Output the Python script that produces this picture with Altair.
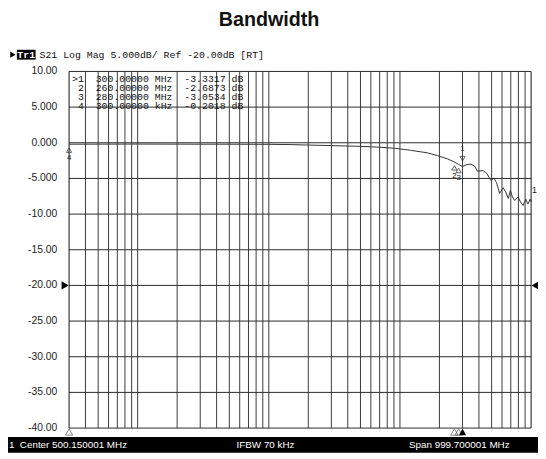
import altair as alt
import pandas as pd

# ---- data ----
freq_mhz = [0.3, 0.5, 1, 2, 3, 5, 10, 15, 20, 30, 50, 70, 92, 120, 163, 193, 230, 260, 280, 300,
            325, 348, 370, 390, 430, 460, 494, 520, 545, 575, 612, 640, 670, 695, 720, 750, 795,
            830, 870, 910, 945, 985, 1000]
trace_db = [-0.20, -0.19, -0.18, -0.19, -0.20, -0.20, -0.22, -0.26, -0.32, -0.40, -0.50, -0.62, -0.78,
            -1.05, -1.42, -1.80, -2.25, -2.69, -3.05, -3.33,
            -3.05, -3.00, -3.25, -4.00, -3.90, -4.30, -5.30, -4.95, -5.60, -7.10, -6.30, -6.90, -7.80,
            -6.70, -7.60, -8.10, -7.60, -8.30, -8.80, -7.90, -8.60, -7.90, -8.30]

marker_ids = ["1", "2", "3", "4"]
marker_freq = [300, 260, 280, 0.3]
marker_db = [-3.3317, -2.6873, -3.0534, -0.2018]
marker_freq_text = ["300.00000 MHz", "260.00000 MHz", "280.00000 MHz", "300.00000 kHz"]
active_marker = "1"

y_ticks = [10, 5, 0, -5, -10, -15, -20, -25, -30, -35, -40]
y_tick_labels = ["10.00", "5.000", "0.000", "-5.000", "-10.00", "-15.00", "-20.00",
                 "-25.00", "-30.00", "-35.00", "-40.00"]
x_grid = [0.4, 0.5, 0.6, 0.7, 0.8, 0.9,
          1, 2, 3, 4, 5, 6, 7, 8, 9,
          10, 20, 30, 40, 50, 60, 70, 80, 90,
          100, 200, 300, 400, 500, 600, 700, 800, 900]
x_edges = [0.3, 1000]
ref_level = -20
trace_label_db = -6.6

title_text = "Bandwidth"
header_text = "S21 Log Mag 5.000dB/ Ref -20.00dB [RT]"
trace_name = "Tr1"
footer_center = "Center 500.150001 MHz"
footer_ifbw = "IFBW 70 kHz"
footer_span = "Span 999.700001 MHz"

W, H = 469, 362
xs = alt.Scale(type="log", domain=[0.3, 1000], nice=False)
ys = alt.Scale(domain=[-40, 10], nice=False, zero=False)
X = lambda: alt.X("f:Q", scale=xs, axis=None)
Y = lambda: alt.Y("db:Q", scale=ys, axis=None)

mono = "Liberation Mono"
sans = "Liberation Sans"
NB = "\u00a0"


def label(text, x, y, **kw):
    return alt.Chart(pd.DataFrame({"t": [text]})).mark_text(**kw).encode(
        x=alt.value(x), y=alt.value(y), text="t:N")


def box(x, x2, y, y2, color):
    return alt.Chart(pd.DataFrame({"a": [0]})).mark_rect(color=color).encode(
        x=alt.value(x), x2=alt.value(x2), y=alt.value(y), y2=alt.value(y2))


vgrid = alt.Chart(pd.DataFrame({"f": x_grid})).mark_rule(color="#3a3a3a", strokeWidth=1).encode(x=X())
hgrid = alt.Chart(pd.DataFrame({"db": y_ticks})).mark_rule(color="#2a2a2a", strokeWidth=1).encode(y=Y())
edges = alt.Chart(pd.DataFrame({"f": x_edges})).mark_rule(color="#111", strokeWidth=1).encode(x=X())

trace = alt.Chart(pd.DataFrame({"f": freq_mhz, "db": trace_db})).mark_line(
    color="#333", strokeWidth=1).encode(x=X(), y=Y(), order=alt.Order("f:Q"))

mk = pd.DataFrame({"id": marker_ids, "f": marker_freq, "db": marker_db})
mk_act = mk[mk["id"] == active_marker]
mk_other = mk[mk["id"] != active_marker]

m_active = alt.Chart(mk_act).mark_point(shape="triangle-down", filled=False, color="#222",
                                        size=28, strokeWidth=1, yOffset=-8).encode(x=X(), y=Y())
m_active_lbl = alt.Chart(mk_act).mark_text(font=sans, fontSize=8, color="#222", dy=-18).encode(
    x=X(), y=Y(), text="id:N")
m_other = alt.Chart(mk_other).mark_point(shape="triangle-up", filled=False, color="#222",
                                         size=28, strokeWidth=1, yOffset=6).encode(x=X(), y=Y())
m_other_lbl = alt.Chart(mk_other).mark_text(font=sans, fontSize=8, color="#222", dy=14).encode(
    x=X(), y=Y(), text="id:N")

# markers on the bottom edge
base = pd.DataFrame({"f": marker_freq, "db": [-40] * 4, "id": marker_ids})
b_other = alt.Chart(base[base["id"] != active_marker]).mark_point(
    shape="triangle-up", filled=False, color="#555", size=55, strokeWidth=1, yOffset=4).encode(x=X(), y=Y())
b_act = alt.Chart(base[base["id"] == active_marker]).mark_point(
    shape="triangle-up", filled=True, color="black", opacity=1, size=55, yOffset=4).encode(x=X(), y=Y())

# reference level arrows
ref = pd.DataFrame({"db": [ref_level]})
ref_l = alt.Chart(ref).mark_point(shape="triangle-right", filled=True, color="black", opacity=1,
                                  size=70).encode(x=alt.value(-4), y=Y())
ref_r = alt.Chart(ref).mark_point(shape="triangle-left", filled=True, color="black", opacity=1,
                                  size=70).encode(x=alt.value(W + 4), y=Y())

# y labels
ylab = alt.Chart(pd.DataFrame({"db": y_ticks, "t": y_tick_labels})).mark_text(
    font=sans, fontSize=10.5, color="#222", align="right", baseline="middle").encode(
    x=alt.value(-12), y=Y(), text="t:N")

# marker table
rows = []
for i, (mid, ft, v) in enumerate(zip(marker_ids, marker_freq_text, marker_db)):
    line = f"{mid}  {ft}  {v:.4f} dB".replace(" ", NB)
    rows.append({"t": line, "r": i, "act": ">" if mid == active_marker else ""})
table_df = pd.DataFrame(rows)
row_y = alt.Y("r:Q", scale=alt.Scale(domain=[0, 3], range=[8, 35]), axis=None)
table = alt.Chart(table_df).mark_text(
    font=mono, fontSize=10, color="#111", align="left", baseline="middle").encode(
    x=alt.value(9), y=row_y, text="t:N")
table_act = alt.Chart(table_df).mark_text(
    font=mono, fontSize=10, color="#111", align="left", baseline="middle").encode(
    x=alt.value(3), y=row_y, text="act:N")

trace_lbl = alt.Chart(pd.DataFrame({"db": [trace_label_db], "t": ["1"]})).mark_text(
    font=sans, fontSize=9, color="#222", align="left").encode(x=alt.value(W + 1), y=Y(), text="t:N")

title = label(title_text, 203, -52, font=sans, fontSize=20, fontWeight="bold", color="#111",
              align="center", baseline="middle")
hdr_tri = alt.Chart(pd.DataFrame({"a": [0]})).mark_point(
    shape="triangle-right", filled=True, color="black", opacity=1, size=40).encode(
    x=alt.value(-57), y=alt.value(-17))
hdr_box = box(-53, -34, -22, -12, "black")
hdr_name = label(trace_name, -43.5, -17, font=mono, fontSize=10, fontWeight="bold", color="white",
                 align="center", baseline="middle")
hdr_text = label(header_text, -30, -17, font=mono, fontSize=10, color="#111", align="left",
                 baseline="middle")

foot_bar = box(-70, W + 10, 371, 387, "black")
foot_1 = label("1", -61, 379, font=sans, fontSize=10, color="white", align="left", baseline="middle")
foot_c = label(footer_center, -50, 379, font=sans, fontSize=10, color="white", align="left",
               baseline="middle")
foot_i = label(footer_ifbw, 170, 379, font=sans, fontSize=10, color="white", align="left",
               baseline="middle")
foot_s = label(footer_span, 345, 379, font=sans, fontSize=10, color="white", align="left",
               baseline="middle")

chart = alt.layer(
    vgrid, hgrid, edges, trace,
    m_active, m_active_lbl, m_other, m_other_lbl,
    b_other, b_act, ref_l, ref_r, ylab, table, table_act, trace_lbl,
    title, hdr_tri, hdr_box, hdr_name, hdr_text,
    foot_bar, foot_1, foot_c, foot_i, foot_s,
).resolve_scale(y="independent").properties(
    width=W, height=H,
    autosize=alt.AutoSizeParams(type="none"),
    padding={"left": 62, "top": 61, "right": 7, "bottom": 28},
    background="white",
).configure_view(stroke=None)

chart.save("out.html", embed_options={"renderer": "svg", "actions": False})
